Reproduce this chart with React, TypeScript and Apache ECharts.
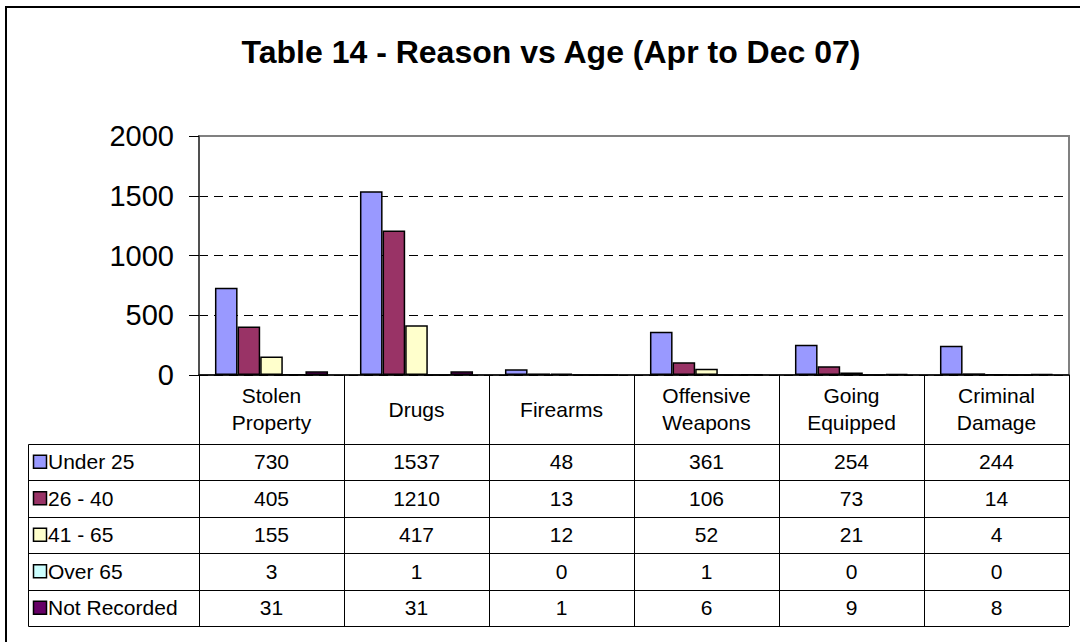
import React, { useEffect, useRef } from "react";
import * as echarts from "echarts";

// ---- data ----
const categories = [
  "Stolen\nProperty",
  "Drugs",
  "Firearms",
  "Offensive\nWeapons",
  "Going\nEquipped",
  "Criminal\nDamage",
];
const seriesNames = ["Under 25", "26 - 40", "41 - 65", "Over 65", "Not Recorded"];
const under25 = [730, 1537, 48, 361, 254, 244];
const age26to40 = [405, 1210, 13, 106, 73, 14];
const age41to65 = [155, 417, 12, 52, 21, 4];
const over65 = [3, 1, 0, 1, 0, 0];
const notRecorded = [31, 31, 1, 6, 9, 8];
const yTickValues = [0, 500, 1000, 1500, 2000];
const seriesColors = ["#9999FF", "#993366", "#FFFFCC", "#CCFFFF", "#660066"];
const titleText = "Table 14 - Reason vs Age (Apr to Dec 07)";

const seriesValues = [under25, age26to40, age41to65, over65, notRecorded];

// ---- layout ----
const W = 1080;
const H = 642;
const FONT = 'Arial, "Liberation Sans", sans-serif';
const gridLeft = 199;
const gridRight = 1069;
const gridTop = 136;
const axisY = 375;
const headerBottom = 443.5;
const rowH = 36.5;
const tableLeft = 28.5;

export default function App() {
  const ref = useRef<HTMLDivElement>(null);

  useEffect(() => {
    if (!ref.current) return;
    const chart = echarts.init(ref.current, undefined, { renderer: "svg" });

    const rowAxes = seriesValues.map((vals, k) => ({
      type: "category" as const,
      gridIndex: 0,
      data: categories,
      position: "bottom" as const,
      offset: headerBottom + rowH * k + rowH / 2 - axisY,
      axisLine: { show: false },
      axisTick: { show: false },
      splitLine: { show: false },
      axisLabel: {
        interval: 0,
        margin: 0,
        verticalAlign: "middle" as const,
        fontSize: 21,
        fontFamily: FONT,
        color: "#000",
        formatter: (_v: string, i: number) => String(vals[i]),
      },
    }));

    const graphics: any[] = [];
    // outer chart border
    graphics.push({
      type: "rect",
      shape: { x: 6, y: 7, width: W + 40, height: H + 40 },
      style: { fill: "none", stroke: "#000", lineWidth: 2 },
      silent: true,
    });
    // horizontal table lines
    for (let k = 0; k <= seriesNames.length; k++) {
      const y = Math.round(headerBottom + rowH * k) + 0.5;
      graphics.push({
        type: "line",
        shape: { x1: tableLeft, y1: y, x2: gridRight, y2: y },
        style: { stroke: "#000", lineWidth: 1 },
        silent: true,
      });
    }
    // left border of legend column
    graphics.push({
      type: "line",
      shape: {
        x1: tableLeft,
        y1: Math.round(headerBottom) + 0.5,
        x2: tableLeft,
        y2: Math.round(headerBottom + rowH * seriesNames.length) + 0.5,
      },
      style: { stroke: "#000", lineWidth: 1 },
      silent: true,
    });
    // legend keys and names
    seriesNames.forEach((name, k) => {
      const cy = headerBottom + rowH * k + rowH / 2;
      graphics.push({
        type: "rect",
        shape: { x: 33.5, y: cy - 6.5, width: 13, height: 13 },
        style: { fill: seriesColors[k], stroke: "#000", lineWidth: 1.5 },
        silent: true,
      });
      graphics.push({
        type: "text",
        x: 48,
        y: cy,
        style: {
          text: name,
          fontSize: 21,
          fontFamily: FONT,
          fill: "#000",
          textAlign: "left",
          textVerticalAlign: "middle",
        },
        silent: true,
      });
    });

    chart.setOption({
      animation: false,
      backgroundColor: "#fff",
      title: {
        text: titleText,
        left: 546,
        top: 31,
        textAlign: "center",
        textStyle: {
          fontSize: 32,
          fontWeight: "bold",
          fontFamily: FONT,
          color: "#000",
        },
      },
      grid: {
        left: gridLeft,
        right: W - gridRight,
        top: gridTop,
        bottom: H - axisY,
        show: true,
        borderColor: "#808080",
        borderWidth: 2,
        backgroundColor: "transparent",
      },
      xAxis: [
        {
          type: "category",
          data: categories,
          position: "bottom",
          axisLine: { show: true, lineStyle: { color: "#000", width: 1.5 } },
          axisTick: {
            show: true,
            interval: 0,
            alignWithLabel: false,
            length: Math.round(headerBottom + rowH * seriesNames.length) - axisY,
            lineStyle: { color: "#000", width: 1 },
          },
          axisLabel: {
            interval: 0,
            margin: (axisY + headerBottom) / 2 - axisY,
            verticalAlign: "middle",
            fontSize: 21,
            lineHeight: 27,
            fontFamily: FONT,
            color: "#000",
          },
          splitLine: { show: false },
        },
        ...rowAxes,
      ],
      yAxis: {
        type: "value",
        min: yTickValues[0],
        max: yTickValues[yTickValues.length - 1],
        interval: yTickValues[1] - yTickValues[0],
        axisLine: { show: true, lineStyle: { color: "#404040", width: 1.5 } },
        axisTick: { show: true, length: 10, lineStyle: { color: "#000", width: 1 } },
        axisLabel: {
          margin: 25,
          fontSize: 29,
          fontFamily: FONT,
          color: "#000",
          formatter: (v: number) => String(v),
        },
        splitLine: {
          show: true,
          lineStyle: {
            color: ["#000", "#000", "#000", "#000", "rgba(0,0,0,0)"],
            type: [9, 6],
            width: 1,
          },
        },
      },
      series: seriesNames.map((name, k) => ({
        name,
        type: "bar",
        xAxisIndex: 0,
        yAxisIndex: 0,
        data: seriesValues[k],
        barGap: "0%",
        barCategoryGap: "22%",
        itemStyle: {
          color: seriesColors[k],
          borderColor: "#000",
          borderWidth: 1.5,
        },
      })),
      graphic: graphics,
    });

    return () => chart.dispose();
  }, []);

  return (
    <div
      ref={ref}
      style={{ position: "fixed", left: 0, top: 0, width: W, height: H, background: "#fff" }}
    />
  );
}
